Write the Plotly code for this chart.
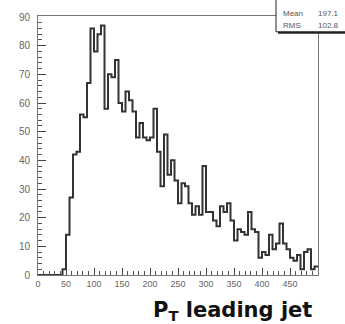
import plotly.graph_objects as go

# Leading-jet transverse momentum spectrum, 80 bins from 0 to 500
x_min, x_max, n_bins = 0.0, 500.0, 80
counts = [0, 0, 0, 0, 0, 0, 0, 2, 14, 27,
          42, 43, 56, 55, 67, 86, 78, 84, 87, 58,
          70, 69, 75, 60, 57, 64, 61, 57, 48, 53,
          48, 47, 48, 58, 43, 31, 49, 35, 40, 33,
          25, 32, 31, 25, 21, 24, 21, 38, 22, 22,
          19, 17, 24, 22, 25, 19, 12, 16, 15, 14,
          22, 16, 15, 6, 8, 7, 14, 9, 11, 18,
          11, 9, 6, 5, 7, 2, 8, 9, 2, 3]
stat_names = ["Mean", "RMS"]
stat_values = ["197.1", "102.8"]
x_ticks = [0, 50, 100, 150, 200, 250, 300, 350, 400, 450]
y_ticks = [0, 10, 20, 30, 40, 50, 60, 70, 80, 90]
x_title = "P<sub>T</sub> leading jet"

width = (x_max - x_min) / n_bins
edges = [x_min + i * width for i in range(n_bins + 1)]

# step outline of the histogram
xs = [x_min] + edges
ys = [0] + counts + [counts[-1]]

fig = go.Figure()
fig.add_trace(go.Scatter(
    x=xs, y=ys, mode="lines", line_shape="hv",
    line=dict(color="#333", width=2), hoverinfo="skip", showlegend=False,
))

x_tick_font = dict(family="Liberation Sans, Arial, sans-serif", size=9, color="#666")
y_tick_font = dict(family="Liberation Sans, Arial, sans-serif", size=10, color="#666")

fig.update_layout(
    width=345, height=324,
    margin=dict(l=38, r=27, t=13, b=49),
    paper_bgcolor="white", plot_bgcolor="white",
    showlegend=False,
    xaxis=dict(
        range=[x_min, x_max], tickvals=x_ticks, ticks="inside", ticklen=7,
        tickcolor="#444", tickwidth=1, showgrid=False, zeroline=False,
        showline=True, linecolor="#777", linewidth=1, mirror=True,
        tickfont=x_tick_font,
        minor=dict(dtick=10, ticks="inside", ticklen=4, tickcolor="#555", showgrid=False),
    ),
    yaxis=dict(
        range=[0, 90.35], tickvals=y_ticks, ticks="inside", ticklen=8,
        tickcolor="#444", tickwidth=1, showgrid=False, zeroline=False,
        showline=True, linecolor="#777", linewidth=1, mirror=True,
        tickfont=y_tick_font, ticklabelstandoff=5,
        minor=dict(dtick=2, ticks="inside", ticklen=4, tickcolor="#555", showgrid=False),
    ),
)

# statistics box in the top-right corner
px0, px1 = 38.0, 318.0
py0, py1 = 275.0, 13.0


def fx(xp):
    return (xp - px0) / (px1 - px0)


def fy(yp):
    return (py0 - yp) / (py0 - py1)


fig.add_shape(type="rect", xref="paper", yref="paper",
              x0=fx(278), x1=fx(352), y0=fy(31), y1=fy(-6),
              line=dict(color="#222", width=0), fillcolor="#222", layer="above")
fig.add_shape(type="rect", xref="paper", yref="paper",
              x0=fx(276), x1=fx(350), y0=fy(29), y1=fy(-8),
              line=dict(color="#222", width=1), fillcolor="white", layer="above")

stat_font = dict(family="Liberation Sans, Arial, sans-serif", size=8, color="#555")
for i, (name, val) in enumerate(zip(stat_names, stat_values)):
    ypos = fy(10 + 12.5 * i)
    fig.add_annotation(xref="paper", yref="paper", x=fx(281), y=ypos, text=name,
                       showarrow=False, xanchor="left", yanchor="middle", font=stat_font)
    fig.add_annotation(xref="paper", yref="paper", x=fx(341), y=ypos, text=val,
                       showarrow=False, xanchor="right", yanchor="middle", font=stat_font)

# axis title
fig.add_annotation(xref="paper", yref="paper", x=fx(232), y=fy(311), text="<b>" + x_title + "</b>",
                   showarrow=False, xanchor="center", yanchor="middle",
                   font=dict(family="DejaVu Sans, sans-serif", size=21, color="#111"))

fig.write_html("out.html")
